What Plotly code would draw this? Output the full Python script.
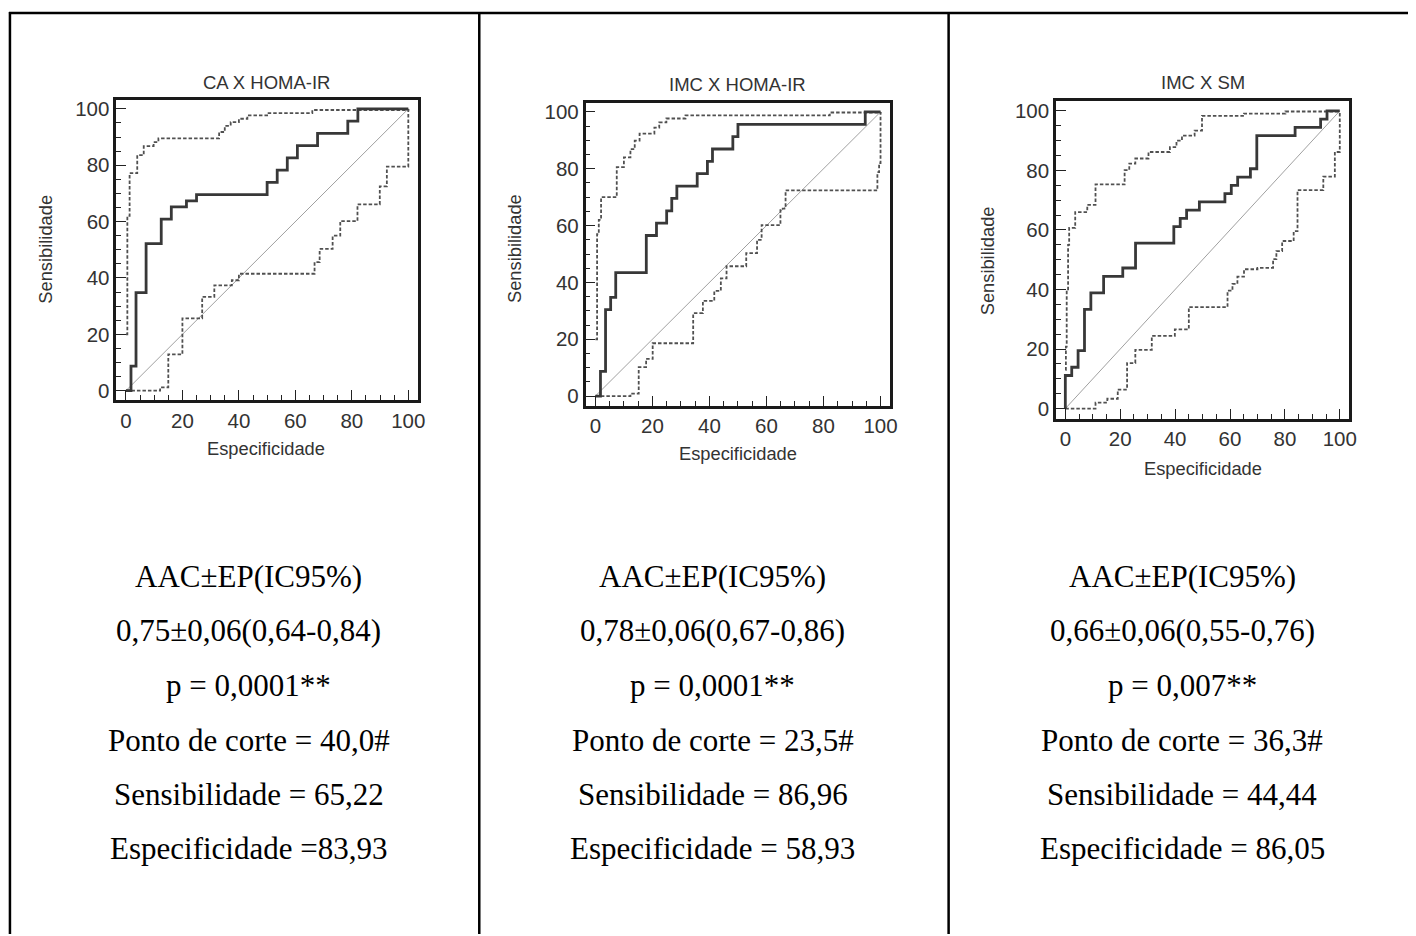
import plotly.graph_objects as go

W, H = 1416, 936

# ---------------- data ----------------
titles = ["CA X HOMA-IR", "IMC X HOMA-IR", "IMC X SM"]
x_label = "Especificidade"
y_label = "Sensibilidade"
tick_vals = [0, 20, 40, 60, 80, 100]

# Panel 1: CA X HOMA-IR
roc1_x = [0, 1.79, 3.57, 7.14, 12.5, 16.07, 21.43, 25.0, 50.0, 53.57, 57.14, 60.71, 67.86, 78.57, 82.14, 100]
roc1_y = [0, 8.70, 34.78, 52.17, 60.87, 65.22, 67.39, 69.57, 73.91, 78.26, 82.61, 86.96, 91.30, 95.65, 100, 100]
up1_x = [0, 0.5, 1.3, 4.0, 6.3, 9.8, 11.5, 33.0, 35.0, 37.1, 40.0, 43.0, 50.0, 66.0, 100]
up1_y = [20, 62, 77.2, 83.6, 86.8, 88.2, 89.5, 91.8, 94, 95.3, 96.5, 97.7, 98.5, 99.6, 100]
lo1_x = [0, 12.1, 15.0, 20.0, 27.0, 31.3, 37.5, 40.0, 66.8, 68.6, 73.2, 75.9, 82.0, 89.9, 92.4, 100]
lo1_y = [0, 1.2, 12.9, 25.7, 33.3, 37.4, 39.2, 41.5, 45.6, 50.3, 55.0, 60.2, 66.1, 72.5, 79.5, 100]

# Panel 2: IMC X HOMA-IR
roc2_x = [0, 1.79, 3.57, 5.36, 7.14, 17.86, 21.43, 25.0, 26.79, 28.57, 35.71, 39.29, 41.07, 48.21, 50.0, 94.64, 100]
roc2_y = [0, 8.70, 30.43, 34.78, 43.48, 56.52, 60.87, 65.22, 69.57, 73.91, 78.26, 82.61, 86.96, 91.30, 95.65, 100, 100]
up2_x = [0, 0.6, 1.2, 2.0, 7.5, 10.0, 12.3, 13.8, 15.5, 20.7, 22.4, 24.9, 31.6, 82.2, 100]
up2_y = [20, 57, 62, 70, 80.6, 84, 86.9, 89.9, 92.4, 94.5, 96.3, 97.7, 98.8, 99.8, 100]
lo2_x = [0, 12.3, 15.2, 17.8, 20.1, 34.3, 37.7, 41.7, 44.0, 46.0, 52.9, 56.7, 58.3, 64.9, 66.7, 98.9, 99.5, 100]
lo2_y = [0, 0.9, 10.2, 13.1, 18.6, 29.2, 33.5, 37.0, 41.4, 45.7, 50.3, 55.0, 60.2, 66.0, 72.4, 78.8, 82.0, 100]

# Panel 3: IMC X SM
roc3_x = [0, 0, 2.33, 4.65, 6.98, 9.30, 13.95, 20.93, 25.58, 39.53, 41.86, 44.19, 48.84, 58.14, 60.47, 62.79, 67.44, 69.77, 83.72, 93.02, 95.35, 100]
roc3_y = [0, 11.11, 13.89, 19.44, 33.33, 38.89, 44.44, 47.22, 55.56, 61.11, 63.89, 66.67, 69.44, 72.22, 75.0, 77.78, 80.56, 91.67, 94.44, 97.22, 100, 100]
up3_x = [0, 0.2, 0.5, 1.0, 1.4, 3.6, 8.0, 11.0, 21.6, 23.3, 25.5, 30.3, 38.1, 40.5, 42.5, 47.1, 49.8, 65.1, 80.2, 100]
up3_y = [13, 20.8, 39.6, 55, 60.7, 66, 68.4, 75.3, 80.1, 82.3, 84, 86.2, 87.8, 90, 91.7, 93.4, 98.3, 99.1, 99.8, 100]
lo3_x = [0, 11.0, 15.3, 19.1, 22.5, 25.5, 31.5, 39.9, 45.0, 59.1, 60.9, 62.7, 65.1, 70.0, 75.7, 76.9, 79.0, 83.2, 84.6, 94.0, 98.2, 100]
lo3_y = [0, 2.0, 3.3, 6.4, 15.3, 19.7, 24.4, 26.6, 34.1, 39.6, 41.9, 44.3, 46.8, 47.3, 50.2, 52.9, 56.3, 59.6, 73.4, 77.9, 86.2, 100]

diag_x = [0, 100]
diag_y = [0, 100]

stat_header = "AAC±EP(IC95%)"
auc_text = ["0,75±0,06(0,64-0,84)", "0,78±0,06(0,67-0,86)", "0,66±0,06(0,55-0,76)"]
p_text = ["p = 0,0001**", "p = 0,0001**", "p = 0,007**"]
cut_text = ["Ponto de corte = 40,0#", "Ponto de corte = 23,5#", "Ponto de corte = 36,3#"]
sens_text = ["Sensibilidade = 65,22", "Sensibilidade = 86,96", "Sensibilidade = 44,44"]
spec_text = ["Especificidade =83,93", "Especificidade = 58,93", "Especificidade = 86,05"]

# ---------------- layout helpers ----------------
def px(x):
    return x / W

def py(y):
    return 1 - y / H

# plot frames in pixels: (left, right, top, bottom)
frames = [(117, 420, 98, 400), (589, 895, 101, 405.5), (1062, 1356.5, 99.5, 418.5)]
title_pos = [(268, 81), (742, 83), (1210, 81)]
xlab_pos = [(268, 448), (742, 453), (1210, 469)]
ylab_pos = [(46, 248), (518, 248), (993, 260)]
col_centers = [250, 717, 1189]
text_rows = [576.5, 631.5, 686.5, 741.5, 796, 850.5]

roc_sets = [
    (roc1_x, roc1_y, up1_x, up1_y, lo1_x, lo1_y),
    (roc2_x, roc2_y, up2_x, up2_y, lo2_x, lo2_y),
    (roc3_x, roc3_y, up3_x, up3_y, lo3_x, lo3_y),
]

SANS = "Liberation Sans, Arial, sans-serif"
SERIF = "Liberation Serif, Times New Roman, serif"
DASH = dict(color="#505050", width=1.8, dash="3.5px,2px")

fig = go.Figure()
for i, (rx, ry, ux, uy, lx, ly) in enumerate(roc_sets):
    xa = "x" if i == 0 else f"x{i+1}"
    ya = "y" if i == 0 else f"y{i+1}"
    fig.add_trace(go.Scatter(x=diag_x, y=diag_y, mode="lines", xaxis=xa, yaxis=ya,
                             line=dict(color="#a0a0a0", width=1), hoverinfo="skip"))
    fig.add_trace(go.Scatter(x=ux, y=uy, mode="lines", xaxis=xa, yaxis=ya, line_shape="hv", line=DASH))
    fig.add_trace(go.Scatter(x=lx, y=ly, mode="lines", xaxis=xa, yaxis=ya, line_shape="hv", line=DASH))
    fig.add_trace(go.Scatter(x=rx, y=ry, mode="lines", xaxis=xa, yaxis=ya, line_shape="hv",
                             line=dict(color="#383838", width=2.8)))

axis_common = dict(
    range=[-3.4, 103.3], tickvals=tick_vals, ticks="inside", ticklen=10, tickwidth=1.4,
    tickcolor="#222", showline=True, linewidth=2.6, linecolor="#1a1a1a", mirror=True,
    showgrid=False, zeroline=False, fixedrange=True,
    tickfont=dict(family=SANS, size=20.5, color="#333"),
    minor=dict(ticks="inside", ticklen=5, tickwidth=1.2, tickcolor="#222", dtick=5, tick0=0, showgrid=False),
)

layout = dict(width=W, height=H, margin=dict(l=0, r=0, t=0, b=0), showlegend=False,
              paper_bgcolor="white", plot_bgcolor="white")
annotations = []
for i, (l, r, t, b) in enumerate(frames):
    sx = "" if i == 0 else str(i + 1)
    layout["xaxis" + sx] = dict(axis_common, domain=[px(l), px(r)], anchor="y" + sx)
    layout["yaxis" + sx] = dict(axis_common, domain=[py(b), py(t)], anchor="x" + sx)
    tx, ty = title_pos[i]
    annotations.append(dict(text=titles[i], x=px(tx), y=py(ty), xref="paper", yref="paper",
                            showarrow=False, xanchor="center", yanchor="middle",
                            font=dict(family=SANS, size=18.5, color="#333")))
    lx_, ly_ = xlab_pos[i]
    annotations.append(dict(text=x_label, x=px(lx_), y=py(ly_), xref="paper", yref="paper",
                            showarrow=False, xanchor="center", yanchor="middle",
                            font=dict(family=SANS, size=18.3, color="#333")))
    yx_, yy_ = ylab_pos[i]
    annotations.append(dict(text=y_label, x=px(yx_), y=py(yy_), xref="paper", yref="paper",
                            showarrow=False, xanchor="center", yanchor="middle", textangle=-90,
                            font=dict(family=SANS, size=18.3, color="#333")))
    lines = [stat_header, auc_text[i], p_text[i], cut_text[i], sens_text[i], spec_text[i]]
    for row, txt in zip(text_rows, lines):
        annotations.append(dict(text=txt, x=px(col_centers[i]), y=py(row), xref="paper", yref="paper",
                                showarrow=False, xanchor="center", yanchor="middle",
                                font=dict(family=SERIF, size=31, color="black")))

shapes = [
    dict(type="line", xref="paper", yref="paper", x0=px(9), x1=1, y0=py(11), y1=py(11),
         line=dict(color="black", width=2.5)),
    dict(type="line", xref="paper", yref="paper", x0=px(10), x1=px(10), y0=py(10), y1=0,
         line=dict(color="black", width=2.5)),
    dict(type="line", xref="paper", yref="paper", x0=px(482), x1=px(482), y0=py(10), y1=0,
         line=dict(color="black", width=2.5)),
    dict(type="line", xref="paper", yref="paper", x0=px(954), x1=px(954), y0=py(10), y1=0,
         line=dict(color="black", width=2.5)),
]
layout["annotations"] = annotations
layout["shapes"] = shapes
fig.update_layout(**layout)
fig.write_html("out.html")
